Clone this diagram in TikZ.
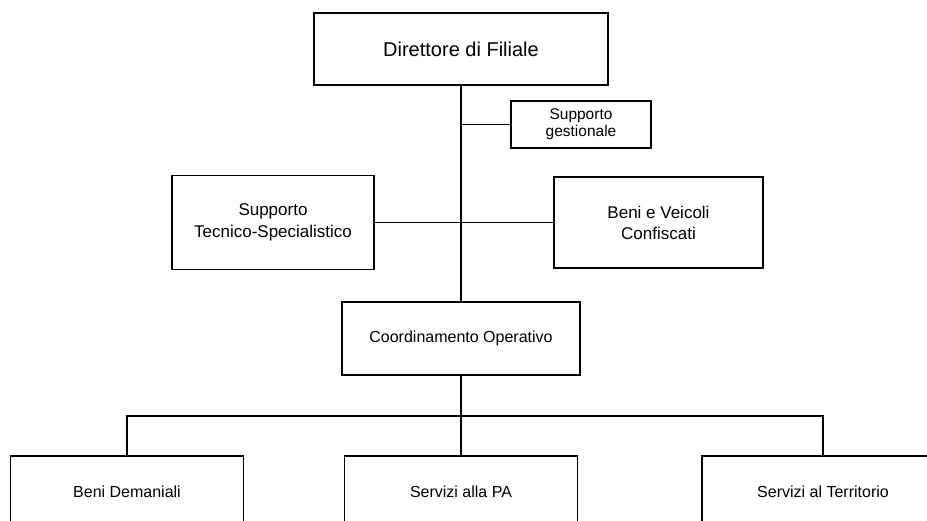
\documentclass[tikz,border=0pt]{standalone}
\usepackage{fontspec}
\setmainfont{Liberation Sans}
\begin{document}
\begin{tikzpicture}[x=1pt,y=1pt,
  box/.style={draw=black,line width=1.4pt,inner sep=0pt,align=center,text=black},
  conn/.style={draw=black,line width=1.1pt}]
\clip (0,0) rectangle (927,-520);
\fill[white] (0,0) rectangle (927,-520);
\node[box,minimum width=294,minimum height=72,font=\fontsize{20}{24}\selectfont] (dir) at (461,-49) {Direttore di Filiale};
\node[box,minimum width=140,minimum height=47,font=\fontsize{15.5}{17}\selectfont] (sg) at (581,-124.5) {Supporto\\gestionale};
\node[box,minimum width=202,minimum height=94,font=\fontsize{17}{22}\selectfont] (stec) at (273,-222.5) {Supporto\\Tecnico-Specialistico};
\node[box,minimum width=209,minimum height=91,font=\fontsize{17}{21}\selectfont] (bv) at (658.5,-222.5) {Beni e Veicoli\\Confiscati};
\node[box,minimum width=238,minimum height=73,font=\fontsize{16}{18}\selectfont] (coord) at (461,-338.5) {Coordinamento Operativo};
\node[box,minimum width=233,minimum height=72,font=\fontsize{16}{18}\selectfont] (bdem) at (127,-492) {Beni Demaniali};
\node[box,minimum width=233,minimum height=72,font=\fontsize{16}{18}\selectfont] (pa) at (461,-492) {Servizi alla PA};
\node[box,minimum width=242,minimum height=72,font=\fontsize{16}{18}\selectfont] (terr) at (823,-492) {Servizi al Territorio};
\coordinate (bar) at (461,-416);
\draw[conn] (dir.south) -- (coord.north);
\draw[conn] (sg.west) -- (sg.west -| dir.south);
\draw[conn] (stec.east) -- (bv.west);
\draw[conn] (coord.south) -- (pa.north);
\draw[conn] (bdem.north) |- (bar) -| (terr.north);
\end{tikzpicture}
\end{document}
